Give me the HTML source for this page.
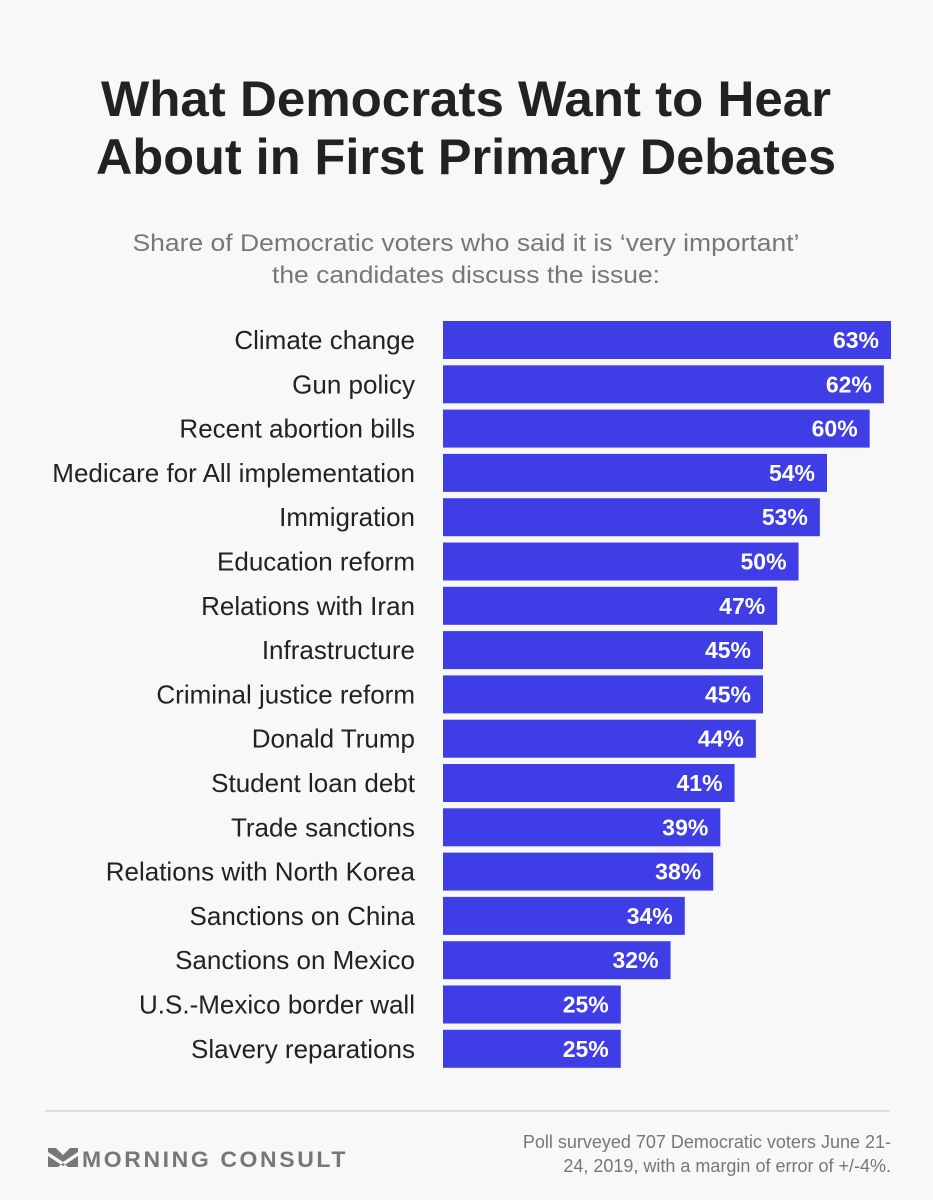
<!DOCTYPE html>
<html><head><meta charset="utf-8"><style>
body{margin:0;background:#f8f8f8;}
svg{display:block;font-family:"Liberation Sans",sans-serif;}
</style></head><body>
<svg id="chart" width="933" height="1200" viewBox="0 0 933 1200">
<rect width="933" height="1200" fill="#f8f8f8"/>
<text x="466" y="116" text-anchor="middle" font-size="50" font-weight="bold" fill="#222" textLength="730" lengthAdjust="spacingAndGlyphs">What Democrats Want to Hear</text>
<text x="466" y="174" text-anchor="middle" font-size="50" font-weight="bold" fill="#222" textLength="740" lengthAdjust="spacingAndGlyphs">About in First Primary Debates</text>
<text x="466" y="251" text-anchor="middle" font-size="24" fill="#777" textLength="667" lengthAdjust="spacingAndGlyphs">Share of Democratic voters who said it is ‘very important’</text>
<text x="466" y="283" text-anchor="middle" font-size="24" fill="#777" textLength="388" lengthAdjust="spacingAndGlyphs">the candidates discuss the issue:</text>
<g id="bars"></g>
<line x1="45" y1="1111" x2="890" y2="1111" stroke="#ddd" stroke-width="2"/>
<g fill="#777">
<path d="M48 1148 L56 1148 L63 1155 L70 1148 L78 1148 L78 1152 L63 1162 L48 1152 Z"/>
<path d="M48 1156 L63 1166 L78 1156 L78 1167 L68 1167 L63 1163 L58 1167 L48 1167 Z"/>
</g>
<text x="82" y="1167" font-size="22" font-weight="bold" fill="#777" letter-spacing="2.5" textLength="266" lengthAdjust="spacingAndGlyphs">MORNING CONSULT</text>
<text x="891" y="1148" text-anchor="end" font-size="18" fill="#777">Poll surveyed 707 Democratic voters June 21-</text>
<text x="891" y="1172" text-anchor="end" font-size="18" fill="#777">24, 2019, with a margin of error of +/-4%.</text>
</svg>
<script>
const categories=["Climate change","Gun policy","Recent abortion bills","Medicare for All implementation","Immigration","Education reform","Relations with Iran","Infrastructure","Criminal justice reform","Donald Trump","Student loan debt","Trade sanctions","Relations with North Korea","Sanctions on China","Sanctions on Mexico","U.S.-Mexico border wall","Slavery reparations"];
const values=[63,62,60,54,53,50,47,45,45,44,41,39,38,34,32,25,25];
const valueLabels=["63%","62%","60%","54%","53%","50%","47%","45%","45%","44%","41%","39%","38%","34%","32%","25%","25%"];
const x0=443, pxPer=448/63, y0=321, step=44.3, bh=38;
function xScale(v){return x0+v*pxPer;}
function yScale(i){return y0+i*step;}
const g=document.getElementById('bars');
const NS='http://www.w3.org/2000/svg';
categories.forEach((c,i)=>{
 const y=yScale(i);
 const r=document.createElementNS(NS,'rect');
 r.setAttribute('x',x0);r.setAttribute('y',y);r.setAttribute('width',xScale(values[i])-x0);r.setAttribute('height',bh);r.setAttribute('fill','#3f3de6');
 
 
 g.appendChild(r);
 const l=document.createElementNS(NS,'text');
 l.setAttribute('x',415);l.setAttribute('y',y+bh/2+9);l.setAttribute('text-anchor','end');l.setAttribute('font-size','26');l.setAttribute('fill','#222');
 l.textContent=c;
 
 
 g.appendChild(l);
 const t=document.createElementNS(NS,'text');
 t.setAttribute('x',xScale(values[i])-12);t.setAttribute('y',y+bh/2+8);t.setAttribute('text-anchor','end');t.setAttribute('font-size','23');t.setAttribute('font-weight','bold');t.setAttribute('fill','#fff');
 t.textContent=valueLabels[i];
 
 
 g.appendChild(t);
});
</script>
</body></html>
